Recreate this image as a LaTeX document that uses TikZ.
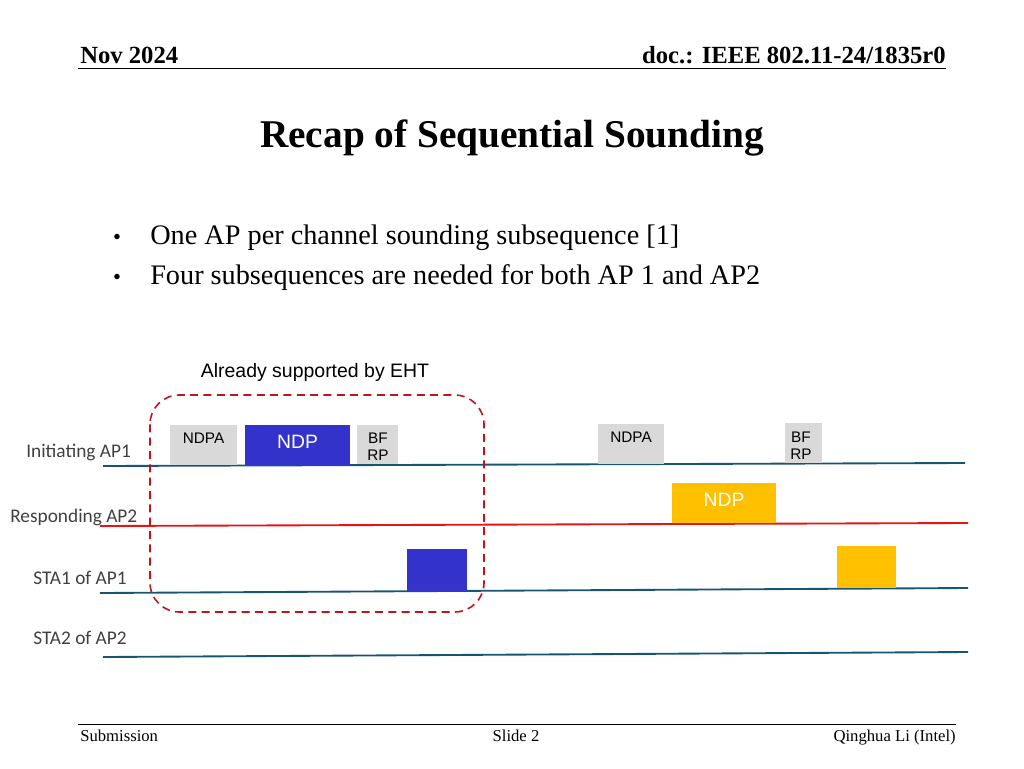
\documentclass[tikz,border=0pt]{standalone}
\usepackage{fontspec}
\setmainfont{Liberation Serif}
\newfontfamily\arialfont{Liberation Sans}
\newfontfamily\calfont{Carlito}
\usepackage{xcolor}
\definecolor{lineteal}{RGB}{25,85,115}
\definecolor{linered}{RGB}{230,20,20}
\definecolor{framered}{RGB}{190,20,30}
\definecolor{ndpblue}{RGB}{51,51,204}
\definecolor{ndpyellow}{RGB}{255,192,0}
\definecolor{boxgray}{RGB}{217,217,217}
\tikzset{
  smalltext/.style={inner sep=0pt,font=\arialfont\fontsize{11.5}{13}\selectfont,align=center},
  ndptext/.style={inner sep=0pt,text=white,font=\arialfont\fontsize{14.5}{16}\selectfont},
  rowlabel/.style={anchor=west,inner sep=0pt,font=\calfont\fontsize{14.5}{16}\selectfont,text=black!75}
}
\begin{document}
\begin{tikzpicture}[x=0.75pt,y=0.75pt,yscale=-1,xscale=1]
\useasboundingbox (0,0) rectangle (1024,768);

% Header
\draw (80,55) node [anchor=west][inner sep=0pt] {\fontsize{18.5}{22}\selectfont\bfseries Nov 2024};
\draw (946,55) node [anchor=east][inner sep=0pt] {\fontsize{18.5}{22}\selectfont\bfseries doc.: IEEE 802.11-24/1835r0};
\draw (78,68) -- (946,68);
% Title
\draw (512,138) node [inner sep=0pt] {\fontsize{29.5}{34}\selectfont\bfseries Recap of Sequential Sounding};
% Bullets
\draw (117,239) node [inner sep=0pt] {\fontsize{17}{18}\selectfont\textbullet};
\draw (150,238) node [anchor=west][inner sep=0pt] {\fontsize{21.2}{25}\selectfont One AP per channel sounding subsequence [1]};
\draw (117,279) node [inner sep=0pt] {\fontsize{17}{18}\selectfont\textbullet};
\draw (150,278) node [anchor=west][inner sep=0pt] {\fontsize{21.2}{25}\selectfont Four subsequences are needed for both AP 1 and AP2};

% Note
\draw (315,372) node [inner sep=0pt] {\arialfont\fontsize{14.6}{17}\selectfont Already supported by EHT};

% Time lines
\draw [lineteal,line width=1.4] (103,466) -- (965,463);
\draw [linered,line width=1.4] (100,526) -- (968,523);
\draw [lineteal,line width=1.4] (100,593) -- (968,588);
\draw [lineteal,line width=1.4] (103,657) -- (968,652);

% Row labels
\draw (26,452) node [rowlabel] {Initiating AP1};
\draw (10,517) node [rowlabel] {Responding AP2};
\draw (33,578) node [rowlabel] {STA1 of AP1};
\draw (33,638) node [rowlabel] {STA2 of AP2};

% Frames of AP1
\fill [boxgray] (170,425) rectangle (237,465);
\draw (203.5,438) node [smalltext] {NDPA};
\fill [ndpblue] (245,425) rectangle (350,465);
\draw (297.5,442) node [ndptext] {NDP};
\fill [boxgray] (357,425) rectangle (398,464);
\draw (378,447) node [smalltext] {BF\\RP};
\fill [boxgray] (598,424) rectangle (664,464);
\draw (631,437) node [smalltext] {NDPA};
\fill [boxgray] (785,423) rectangle (822,463);
\draw (801,446) node [smalltext] {BF\\RP};
% Frame of AP2
\fill [ndpyellow] (672,483) rectangle (776,523);
\draw (724,500) node [ndptext] {NDP};
% Feedback of STA1
\fill [ndpblue] (407,549) rectangle (467,591);
\fill [ndpyellow] (837,546) rectangle (896,588);

% EHT frame
\draw [framered,line width=1.2,dash pattern=on 6pt off 4pt,rounded corners=22] (150,395) rectangle (484,612);

% Footer
\draw (78,724) -- (956,724);
\draw (80,741) node [anchor=base west][inner sep=0pt] {\fontsize{12.5}{14}\selectfont Submission};
\draw (516,741) node [anchor=base][inner sep=0pt] {\fontsize{12.5}{14}\selectfont Slide 2};
\draw (956,741) node [anchor=base east][inner sep=0pt] {\fontsize{12.5}{14}\selectfont Qinghua Li (Intel)};
\end{tikzpicture}
\end{document}
